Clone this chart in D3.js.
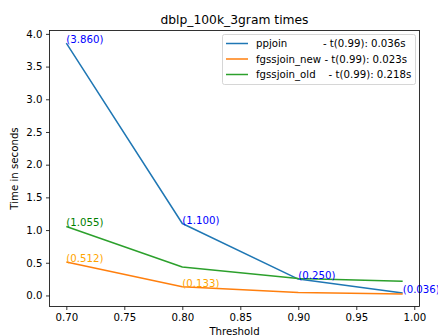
<!DOCTYPE html>
<html>
<head>
<meta charset="utf-8">
<script src="https://cdn.jsdelivr.net/npm/d3@7"></script>
<style>
  body { margin: 0; background: #fff; }
  text { font-family: "DejaVu Sans", sans-serif; }
</style>
</head>
<body>
<div id="chart"></div>
<script>
// thresholds on the x axis
const thresholds = [0.70, 0.80, 0.90, 0.99];

// time in seconds per join
const ppjoin = [3.860, 1.100, 0.250, 0.036];
const fgssjoinNew = [0.512, 0.133, 0.045, 0.023];
const fgssjoinOld = [1.055, 0.435, 0.260, 0.218];

const seriesNames = ["ppjoin           - t(0.99): 0.036s",
  "fgssjoin_new - t(0.99): 0.023s",
  "fgssjoin_old    - t(0.99): 0.218s"];
const lineColors = ["#1f77b4", "#ff7f0e", "#2ca02c"];
const labelColors = ["blue", "orange", "green"];

const xTicks = [0.70, 0.75, 0.80, 0.85, 0.90, 0.95, 1.00];
const yTicks = [0.0, 0.5, 1.0, 1.5, 2.0, 2.5, 3.0, 3.5, 4.0];

// which points get a value label
const annotated = [
  { s: 0, idx: [0, 1, 2, 3] },
  { s: 1, idx: [0, 1] },
  { s: 2, idx: [0] }
];

const W = 438, H = 336;
const box = { left: 49.5, right: 419.5, top: 30.5, bottom: 306.5 };

const svg = d3.select("#chart").append("svg")
  .attr("width", W).attr("height", H);

const allY = ppjoin.concat(fgssjoinNew, fgssjoinOld);
const yMin = d3.min(allY), yMax = d3.max(allY);
const xMin = d3.min(thresholds), xMax = d3.max(thresholds);
const xPad = (xMax - xMin) * 0.05, yPad = (yMax - yMin) * 0.05;

const x = d3.scaleLinear()
  .domain([xMin - xPad, xMax + xPad])
  .range([box.left, box.right]);
const y = d3.scaleLinear()
  .domain([yMin - yPad, yMax + yPad])
  .range([box.bottom, box.top]);

const series = [ppjoin, fgssjoinNew, fgssjoinOld];

// lines
const line = d3.line()
  .x((d, i) => x(thresholds[i]))
  .y(d => y(d));

series.forEach((vals, s) => {
  svg.append("path")
    .datum(vals)
    .attr("fill", "none")
    .attr("stroke", lineColors[s])
    .attr("stroke-width", 1.5)
    .attr("stroke-linejoin", "round")
    .attr("d", line);
});

// value labels (drawn after lines, like plt.text)
annotated.forEach(a => {
  a.idx.forEach(i => {
    const v = series[a.s][i];
    svg.append("text")
      .attr("x", x(thresholds[i]))
      .attr("y", y(v))
      .attr("fill", labelColors[a.s])
      .attr("font-size", "10.2px")
      .text("(" + v.toFixed(3) + ")");
  });
});

// axes
const xAxis = svg.append("g")
  .attr("transform", `translate(0,${box.bottom})`)
  .call(d3.axisBottom(x).tickValues(xTicks).tickFormat(d3.format(".2f"))
    .tickSize(3.5).tickPadding(3.5));
const yAxis = svg.append("g")
  .attr("transform", `translate(${box.left},0)`)
  .call(d3.axisLeft(y).tickValues(yTicks).tickFormat(d3.format(".1f"))
    .tickSize(3.5).tickPadding(3.5));

[xAxis, yAxis].forEach(g => {
  g.select(".domain").remove();
  g.selectAll("line").attr("stroke", "#000").attr("stroke-width", 0.8);
  g.selectAll("text").attr("font-size", "10.2px").attr("fill", "#000")
    .style("font-family", "DejaVu Sans, sans-serif");
});

// frame
svg.append("rect")
  .attr("x", box.left).attr("y", box.top)
  .attr("width", box.right - box.left)
  .attr("height", box.bottom - box.top)
  .attr("fill", "none")
  .attr("stroke", "#000")
  .attr("stroke-width", 0.8);

// title and axis labels
svg.append("text")
  .attr("x", (box.left + box.right) / 2)
  .attr("y", 23.5)
  .attr("text-anchor", "middle")
  .attr("font-size", "12.3px")
  .text("dblp_100k_3gram times");

svg.append("text")
  .attr("x", (box.left + box.right) / 2)
  .attr("y", 335)
  .attr("text-anchor", "middle")
  .attr("font-size", "10.2px")
  .text("Threshold");

svg.append("text")
  .attr("transform", `translate(18,${(box.top + box.bottom) / 2}) rotate(-90)`)
  .attr("text-anchor", "middle")
  .attr("font-size", "10.2px")
  .text("Time in seconds");

// legend
const lg = svg.append("g");
lg.append("rect")
  .attr("x", 222.5).attr("y", 34.5)
  .attr("width", 193).attr("height", 50)
  .attr("rx", 2)
  .attr("fill", "#fff").attr("fill-opacity", 0.8)
  .attr("stroke", "#ccc").attr("stroke-width", 0.8);

seriesNames.forEach((name, s) => {
  const yy = 43.5 + s * 15.5;
  lg.append("line")
    .attr("x1", 226).attr("x2", 248)
    .attr("y1", yy).attr("y2", yy)
    .attr("stroke", lineColors[s]).attr("stroke-width", 1.5);
  lg.append("text")
    .attr("x", 256).attr("y", yy + 3.6)
    .attr("font-size", "10.2px")
    .style("white-space", "pre")
    .text(name);
});
</script>
</body>
</html>
